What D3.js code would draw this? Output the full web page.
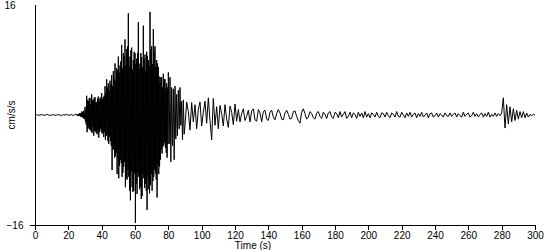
<!DOCTYPE html>
<html>
<head>
<meta charset="utf-8">
<script src="https://cdn.jsdelivr.net/npm/d3@7"></script>
<style>
  html, body { margin: 0; padding: 0; background: #fff; }
  svg { display: block; }
  text { font-family: "Liberation Sans", Arial, sans-serif; font-size: 10px; fill: #000; }
</style>
</head>
<body>
<svg id="chart" width="550" height="250"></svg>
<script>
// ---------------- data (cm/s/s) ----------------
const xTickValues = [0, 20, 40, 60, 80, 100, 120, 140, 160, 180, 200, 220, 240, 260, 280, 300];
const yTickValues = [-16, 16];
const xLabel = "Time (s)";
const yLabel = "cm/s/s";

// pre-event noise, t = 0 .. 24 s, 1 s step
const preStart = 0, preStep = 1;
const preValues = [0, 0.05, -0.05, 0, 0.05, 0, -0.05, 0.1, 0, -0.05,
  0, 0.05, -0.05, 0, 0.05, 0, -0.1, 0.05, 0, 0.1,
  -0.05, 0, 0.05, -0.1, 0.1];

// strong motion, t = 25 .. 79.75 s, 0.25 s step (4 samples per second)
const strongStart = 25, strongStep = 0.25;
const strongValues = [
  0.1, -0.1, 0.05, -0.1,     // 25
  0.1, -0.15, 0.2, -0.1,     // 26
  0.3, -0.2, 0.2, -0.3,      // 27
  0.5, -0.3, 0.4, -0.4,      // 28
  0.6, -0.5, 0.3, -0.6,      // 29
  1.2, -1.0, 0.8, -1.4,      // 30
  2.8, -2.5, 2.2, -2.0,      // 31
  2.0, -1.8, 2.4, -2.1,      // 32
  2.5, -2.2, 1.6, -2.4,      // 33
  3.0, -2.6, 2.2, -1.8,      // 34
  2.2, -3.0, 2.5, -2.3,      // 35
  2.6, -2.4, 1.8, -2.6,      // 36
  1.9, -2.8, 2.4, -2.2,      // 37
  2.7, -3.3, 2.0, -2.5,      // 38
  2.4, -2.0, 2.6, -2.4,      // 39
  3.2, -2.7, 2.3, -2.6,      // 40
  2.6, -3.2, 2.8, -2.5,      // 41
  4.2, -3.6, 3.2, -3.0,      // 42
  5.2, -3.0, 4.0, -3.8,      // 43
  4.6, -4.2, 3.5, -3.2,      // 44
  5.0, -3.8, 4.4, -4.5,      // 45
  5.8, -8.0, 4.2, -5.0,      // 46
  6.4, -5.0, 5.2, -6.2,      // 47
  7.5, -6.0, 5.0, -5.5,      // 48
  6.8, -8.6, 6.5, -6.4,      // 49
  8.5, -9.2, 6.2, -7.4,      // 50
  7.2, -6.5, 7.8, -7.0,      // 51
  10.2, -9.0, 6.8, -8.4,     // 52
  9.0, -7.5, 8.5, -6.8,      // 53
  11.0, -10.5, 7.2, -9.2,    // 54
  9.6, -9.4, 10.0, -8.0,     // 55
  14.8, -9.0, 7.0, -11.0,    // 56
  8.5, -12.4, 9.4, -8.2,     // 57
  9.8, -10.5, 6.6, -11.2,    // 58
  8.0, -11.0, 9.2, -8.5,     // 59
  9.0, -15.7, 7.4, -10.0,    // 60
  8.2, -11.5, 9.0, -8.4,     // 61
  13.5, -9.0, 6.8, -10.8,    // 62
  7.5, -10.5, 9.0, -12.2,    // 63
  8.4, -11.8, 7.0, -8.6,     // 64
  13.0, -9.2, 8.2, -10.6,    // 65
  8.8, -10.0, 6.4, -11.0,    // 66
  9.2, -13.8, 8.6, -9.0,     // 67
  8.0, -10.8, 7.2, -11.4,    // 68
  15.0, -10.2, 9.5, -8.6,    // 69
  10.0, -11.0, 7.4, -9.6,    // 70
  12.5, -9.0, 9.2, -8.0,     // 71
  10.0, -8.5, 7.0, -9.4,     // 72
  8.0, -12.0, 7.5, -7.2,     // 73
  7.0, -8.6, 5.6, -7.5,      // 74
  4.8, -6.5, 5.5, -5.0,      // 75
  5.5, -5.6, 4.0, -4.6,      // 76
  6.0, -4.4, 5.2, -4.0,      // 77
  5.2, -4.8, 3.8, -5.5,      // 78
  4.6, -6.2, 4.0, -4.2       // 79
];

// transition, t = 80 .. 89.5 s, 0.5 s step
const midStart = 80, midStep = 0.5;
const midValues = [
  6.2, -4.2, 5.5, -6.8, 4.0, -4.5, 3.8, -6.5, 4.2, -3.5,
  3.0, -3.0, 3.6, -2.0, 4.0, -1.5, 2.0, -3.6, 2.2, -2.8
];

// coda, t = 90 .. 300 s, 1 s step
const codaStart = 90, codaStep = 1;
const codaValues = [
  -1.5, 1.9, 0.5, -2.2, 1.8,
  -1.0, 1.5, -2.0, 0.8, 1.9, -1.6, 0.4, 2.0, -1.2, 2.5,
  -0.8, -3.6, 2.4, -1.5, 1.2, -2.0, 1.4, 0.2, -1.6, 1.5,
  -0.6, -1.8, 1.3, 0.4, -1.4, 1.6, -0.9, 0.8, -1.0, 0.2,
  0.9, -0.8, -0.2, 0.7, -1.0, 0.6, 0.9, -0.7, -0.9, 0.8,
  0.3, -1.0, 0.5, 0.7, -0.6, -0.8, 0.4, 0.7, -0.3, -0.7,
  0.2, 0.8, 0.3, -0.6, -0.7, 0.3, 0.7, 0.1, -0.6, -0.5,
  0.5, 0.6, -0.2, -0.8, -1.2, 0.4, 0.9, 0.2, -0.6, -0.3,
  0.5, 0.2, -0.4, -0.6, 0.3, 0.5, -0.2, -0.5, 0.4, 0.1,
  -0.5, 0.3, 0.5, -0.3, -0.5, 0.4, 0.2, -0.4, 0.5, -0.3,
  0.1, 0.5, -0.5, -0.2, 0.4, -0.4, 0.3, 0.1, -0.5, 0.4,
  -0.2, 0.3, -0.4, 0.5, -0.3,
  0.2, -0.4, 0.3, 0.1, -0.3, 0.4, -0.2, -0.4, 0.3, 0.2,
  -0.3, 0.4, -0.1, -0.4, 0.3, 0.1, -0.3, 0.5, -0.2, -0.3,
  0.4, 0.0, -0.4, 0.3, -0.2, 0.4, -0.3, 0.1, 0.3, -0.4,
  0.2, -0.2, 0.4, -0.3, 0.0, 0.3, -0.4, 0.2, 0.3, -0.3,
  -0.1, 0.3, -0.3, 0.2, 0.0, -0.3, 0.3, -0.1, -0.2, 0.3,
  -0.2, 0.1, 0.3, -0.3, 0.2, -0.1, -0.3, 0.4, -0.2, 0.1,
  0.3, -0.3, -0.1, 0.4, -0.2, 0.2, -0.3, 0.1, 0.3, -0.3,
  0.2, -0.2, 0.4, -0.3, 0.1, -0.2, 0.3, -0.2, 0.2, -0.1,
  0.3, 2.5, -1.9, 1.5, -1.3, 1.2, -1.0, 0.9, -0.8, 0.7,
  -0.6, 0.5, -0.4, 0.5, -0.4, 0.3, -0.3, 0.1, -0.1, 0.1,
  0.0
];

// ---------------- build series ----------------
function seg(start, step, vals) {
  return vals.map((v, i) => ({ t: start + i * step, a: v }));
}
const series = [].concat(
  seg(preStart, preStep, preValues),
  seg(strongStart, strongStep, strongValues),
  seg(midStart, midStep, midValues),
  seg(codaStart, codaStep, codaValues)
);

// ---------------- chart ----------------
const svg = d3.select("#chart");
const x = d3.scaleLinear().domain([0, 300]).range([35, 535]);
const y = d3.scaleLinear().domain([-16, 16]).range([225, 5]);

// trace
const line = d3.line().x(d => x(d.t)).y(d => y(d.a));
svg.append("path")
  .datum(series)
  .attr("d", line)
  .attr("fill", "none")
  .attr("stroke", "#000")
  .attr("stroke-width", 1)
  .attr("stroke-linejoin", "miter");

// x axis
const xAxis = d3.axisBottom(x).tickValues(xTickValues).tickSize(4).tickSizeOuter(0).tickPadding(2);
const gx = svg.append("g").attr("transform", "translate(0,225.5)").call(xAxis);
gx.select(".domain").remove();
gx.selectAll(".tick line").attr("stroke", "#000").attr("shape-rendering", "crispEdges");
gx.selectAll("text").style("font-size", "10px");
svg.append("line")
  .attr("x1", 30).attr("x2", x(300) + 0.5)
  .attr("y1", 225.5).attr("y2", 225.5)
  .attr("stroke", "#000").attr("shape-rendering", "crispEdges");

// y axis
const yAxis = d3.axisLeft(y).tickValues(yTickValues).tickSize(0).tickPadding(0);
const gy = svg.append("g").attr("transform", "translate(35.5,0)").call(yAxis);
gy.select(".domain").remove();
gy.selectAll("text")
  .attr("text-anchor", "start")
  .attr("x", d => d < 0 ? -29 : -31)
  .style("font-size", "10px");
svg.append("line")
  .attr("x1", 35.5).attr("x2", 35.5)
  .attr("y1", y(16)).attr("y2", 225.5)
  .attr("stroke", "#000").attr("shape-rendering", "crispEdges");

// axis titles
svg.append("text")
  .attr("x", (x(0) + x(300)) / 2 - 32)
  .attr("y", 249)
  .attr("text-anchor", "middle")
  .text(xLabel);
svg.append("text")
  .attr("transform", "translate(15,115) rotate(-90)")
  .attr("text-anchor", "middle")
  .text(yLabel);
</script>
</body>
</html>
